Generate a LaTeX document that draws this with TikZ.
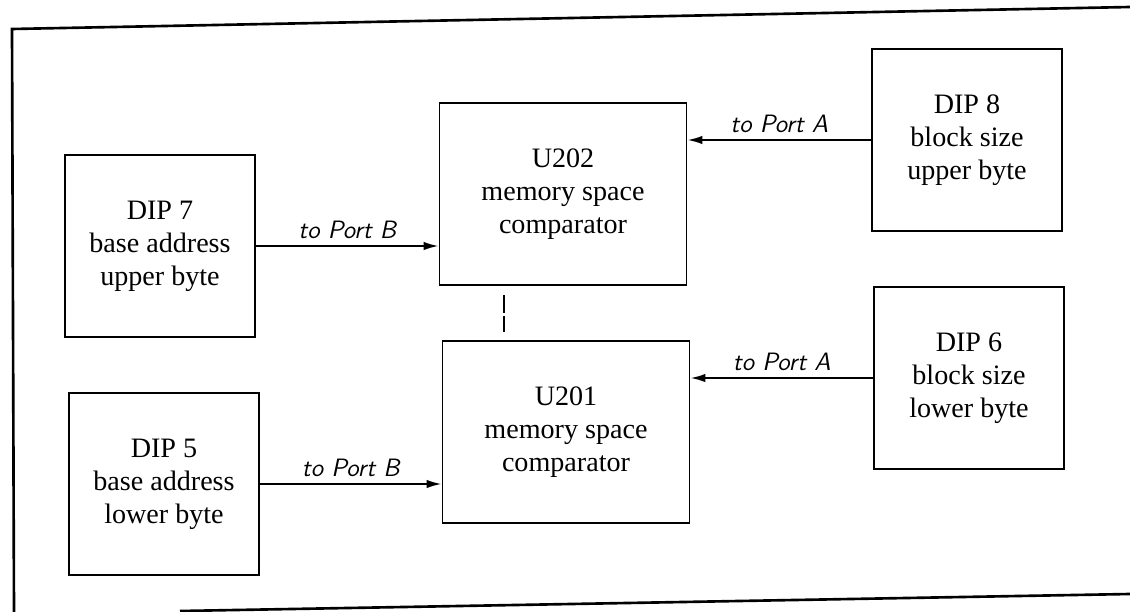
\documentclass[tikz,border=0pt]{standalone}
\usepackage{xcolor}
\usepackage{amsmath}
\usepackage{fontspec}
\setmainfont{Liberation Serif}
\usepackage{tikz}
\usetikzlibrary{arrows.meta}

\begin{document}
\begin{tikzpicture}[x=0.02cm,y=-0.02cm,line width=1.1pt,
        dipbox/.style={draw,align=center,minimum width=3.8cm,minimum height=3.64cm,
            font=\fontsize{16}{18.7}\selectfont},
        cmpbox/.style={dipbox,minimum width=4.94cm},
        port/.style={above,font=\fontsize{14.3}{17}\selectfont\sffamily\itshape},
        feed/.style={-{Latex[length=3mm,width=1.7mm]}}]
                \useasboundingbox (0,0) rectangle (1130,612);
                \draw[line width=1.5pt] (1130,7) -- (12,29) -- (14,612)
                    (180,611) -- (1130,594);
                \node[dipbox] (dip7) at (160,246) {DIP 7\\base address\\upper byte};
                \node[dipbox] (dip5) at (164,484) {DIP 5\\base address\\lower byte};
                \node[cmpbox] (u202) at (563,194) {U202\\memory space\\comparator};
                \node[cmpbox] (u201) at (566,432) {U201\\memory space\\comparator};
                \node[dipbox] (dip8) at (967,140) {DIP 8\\block size\\upper byte};
                \node[dipbox] (dip6) at (969,378) {DIP 6\\block size\\lower byte};
                \coordinate (gaptop) at (504,295);
                \coordinate (gapbot) at (504,332);
                \draw[feed] (dip7.east) -- (dip7.east -| u202.west) node [port,midway] {to Port B};
                \draw[feed] (dip5.east) -- (dip5.east -| u201.west) node [port,midway] {to Port B};
                \draw[feed] (dip8.west) -- (dip8.west -| u202.east) node [port,midway] {to Port A};
                \draw[feed] (dip6.west) -- (dip6.west -| u201.east) node [port,midway] {to Port A};
                \draw[line width=0.6pt,dash pattern=on 0.36cm off 0.06cm] (gaptop) -- (gapbot);
            \end{tikzpicture}
\end{document}
